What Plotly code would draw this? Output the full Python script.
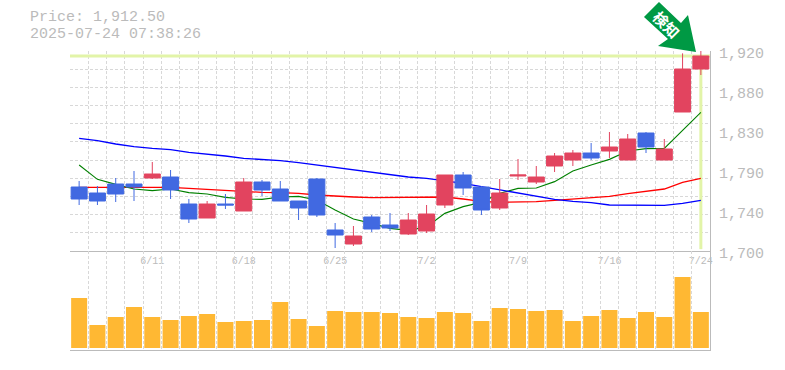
import plotly.graph_objects as go

dates = ["6/5","6/6","6/9","6/10","6/11","6/12","6/13","6/16","6/17","6/18","6/19","6/20","6/23","6/24","6/25","6/26","6/27","6/30","7/1","7/2","7/3","7/4","7/7","7/8","7/9","7/10","7/11","7/14","7/15","7/16","7/17","7/18","7/22","7/23","7/24"]
opens = [1770.4,1763.8,1773.7,1773.7,1780.3,1781.4,1751.7,1736.3,1751.7,1744.0,1775.9,1768.2,1755.0,1779.2,1723.1,1707.7,1737.4,1728.6,1718.7,1722.0,1750.6,1783.6,1770.4,1747.3,1782.5,1775.9,1793.5,1800.1,1807.8,1810.0,1800.1,1829.8,1800.1,1852.9,1900.2]
highs = [1777.0,1771.5,1780.3,1788.0,1797.9,1789.1,1757.2,1755.0,1762.7,1780.3,1778.1,1777.0,1755.0,1780.3,1730.8,1727.5,1739.6,1741.8,1741.8,1750.6,1783.6,1786.9,1771.5,1779.2,1801.2,1793.5,1807.8,1811.1,1818.8,1830.9,1828.7,1830.9,1823.2,1917.4,1920.0]
lows = [1750.6,1750.6,1753.9,1755.0,1779.2,1757.2,1730.8,1736.3,1746.2,1744.0,1760.5,1755.0,1734.1,1737.4,1703.3,1705.5,1720.9,1722.0,1717.6,1719.8,1747.3,1761.6,1739.6,1745.1,1778.1,1773.7,1786.9,1793.5,1800.1,1802.3,1800.1,1807.8,1800.1,1852.9,1893.6]
closes = [1757.2,1755.0,1762.7,1770.4,1784.7,1767.1,1735.2,1751.7,1750.6,1775.9,1767.1,1755.0,1747.3,1739.6,1717.6,1716.5,1724.2,1725.3,1734.1,1740.7,1783.6,1769.3,1745.1,1763.8,1783.6,1781.4,1804.5,1807.8,1802.3,1814.4,1823.2,1814.4,1812.2,1900.2,1914.5]
ma_blue = [1823.9,1821.4,1817.7,1814.8,1812.9,1811.5,1808.5,1806.7,1804.5,1801.9,1800.8,1799.4,1797.2,1794.6,1791.7,1789.1,1786.9,1784.3,1781.4,1779.9,1777.4,1774.4,1770.8,1767.1,1763.4,1760.1,1756.8,1754.6,1753.2,1750.6,1750.2,1750.2,1750.2,1752.4,1755.7]
ma_red = [1770.0,1770.0,1770.0,1769.3,1770.0,1770.0,1768.9,1767.8,1766.4,1765.3,1764.5,1764.2,1763.4,1761.6,1760.1,1759.4,1758.7,1758.7,1759.4,1759.4,1759.4,1757.2,1754.6,1753.5,1753.5,1754.3,1755.7,1757.2,1759.0,1760.1,1763.1,1765.3,1768.2,1775.5,1779.9]
ma_green = [1794.6,1778.8,1773.3,1768.2,1766.4,1768.2,1764.2,1762.7,1759.0,1757.2,1756.8,1759.4,1760.1,1756.1,1745.1,1735.2,1730.4,1724.9,1722.7,1726.4,1741.4,1748.8,1753.5,1763.4,1768.9,1769.3,1776.3,1788.0,1794.6,1800.8,1810.0,1812.6,1812.9,1833.1,1852.5]
volume = [50,23,31,41,31,28,32,34,26,27,28,46,29,22,37,36,36,35,31,30,36,35,27,40,39,37,38,27,32,38,30,36,31,71,36]
price_level = 1914.5
y_ticks = [1920,1876,1832,1788,1744,1700]
y_labels = ["1,920","1,880","1,830","1,790","1,740","1,700"]
x_label_dates = ["6/11","6/18","6/25","7/2","7/9","7/16","7/24"]

GREY = "#bbbbbb"
GRID = "#d8d8d8"
FONT = "Liberation Mono"
idx = list(range(len(dates)))
xr = [-0.5, len(dates) - 0.5]
x_tickvals = [dates.index(d) for d in x_label_dates]
W, H = 785, 370
L, R, T, B = 70, 710, 51, 350

def px(x, y):
    return (x - L) / (R - L), (B - y) / (B - T)

minor_x = dict(tick0=-0.5, dtick=1, showgrid=True, gridcolor=GRID, griddash="3px,2px", gridwidth=1, ticks="")

fig = go.Figure()
fig.add_trace(go.Scatter(x=xr, y=[price_level, price_level], mode="lines", line=dict(color="#e2f4a8", width=3), hoverinfo="skip"))
fig.add_trace(go.Scatter(x=[idx[-1], idx[-1]], y=[price_level, 1702], mode="lines", line=dict(color="#e2f4a8", width=3), hoverinfo="skip"))
fig.add_trace(go.Scatter(x=idx, y=ma_red, mode="lines", line=dict(color="#ff0000", width=1.3)))
fig.add_trace(go.Scatter(x=idx, y=ma_green, mode="lines", line=dict(color="#008000", width=1.1)))
fig.add_trace(go.Scatter(x=idx, y=ma_blue, mode="lines", line=dict(color="#0000ff", width=1.3)))
fig.add_trace(go.Bar(x=idx, y=volume, marker=dict(color="#ffb833", line=dict(width=0)), width=0.875, xaxis="x2", yaxis="y2"))
fig.add_trace(go.Candlestick(x=idx, open=opens, high=highs, low=lows, close=closes, xaxis="x3", yaxis="y3",
    increasing=dict(line=dict(color="#e2445f", width=1), fillcolor="#e2445f"),
    decreasing=dict(line=dict(color="#4169e1", width=1), fillcolor="#4169e1")))

arrow = [(659, 2), (644, 17), (668, 39), (658, 46), (696, 52), (688, 15), (681, 23)]
path = "M " + " L ".join("%.5f,%.5f" % px(*p) for p in arrow) + " Z"

fig.update_layout(
    width=W, height=H, margin=dict(l=L, r=W - R, t=T, b=H - B, autoexpand=False),
    paper_bgcolor="white", plot_bgcolor="white", showlegend=False, boxgap=0.125, boxgroupgap=0,
    font=dict(family=FONT, color=GREY),
    xaxis=dict(domain=[0, 1], range=xr, anchor="y", tickmode="array", tickvals=x_tickvals, ticktext=x_label_dates,
               tickfont=dict(size=10, color=GREY), ticks="", showgrid=False, zeroline=False, showline=True, linecolor=GREY, linewidth=1, minor=minor_x),
    yaxis=dict(domain=[99 / 299, 1], range=[1700, 1920], side="right", anchor="x", tickmode="array", tickvals=y_ticks, ticktext=y_labels,
               tickfont=dict(size=15, color=GREY), ticks="", ticklabelstandoff=5, ticklabelshift=2, showgrid=False, zeroline=False, showline=True, linecolor=GREY, linewidth=1,
               minor=dict(tick0=1700, dtick=20, showgrid=True, gridcolor=GRID, griddash="3px,2px", gridwidth=1, ticks="")),
    xaxis2=dict(domain=[0, 1], range=xr, anchor="y2", showticklabels=False, ticks="", showgrid=False, zeroline=False, showline=True, linecolor=GREY, linewidth=1, minor=minor_x),
    yaxis2=dict(domain=[0, 99 / 299], range=[-2, 97], side="right", anchor="x2", showticklabels=False, ticks="", showgrid=False, zeroline=False, showline=True, linecolor=GREY, linewidth=1),
    xaxis3=dict(overlaying="x", range=xr, visible=False, rangeslider=dict(visible=False), anchor="y3"),
    yaxis3=dict(overlaying="y", range=[1700, 1920], visible=False, side="right", anchor="x3"),
    shapes=[dict(type="path", xref="paper", yref="paper", path=path, fillcolor="#009944", line=dict(width=0))],
    annotations=[
        dict(text="Price: 1,912.50", xref="paper", yref="paper", x=px(28, 0)[0], y=px(0, 17)[1], xanchor="left", yanchor="middle", height=14, showarrow=False, font=dict(size=15, color=GREY, family=FONT)),
        dict(text="2025-07-24 07:38:26", xref="paper", yref="paper", x=px(28, 0)[0], y=px(0, 34)[1], xanchor="left", yanchor="middle", height=14, showarrow=False, font=dict(size=15, color=GREY, family=FONT)),
        dict(text="<b>検知</b>", xref="paper", yref="paper", x=px(667, 0)[0], y=px(0, 24)[1], xanchor="center", yanchor="middle", textangle=45, showarrow=False, font=dict(size=15, color="white", family="Noto Sans CJK JP")),
    ],
)
fig.write_html("out.html", config=dict(displayModeBar=False), post_script="document.body.style.margin='0';document.documentElement.style.overflow='hidden';")
